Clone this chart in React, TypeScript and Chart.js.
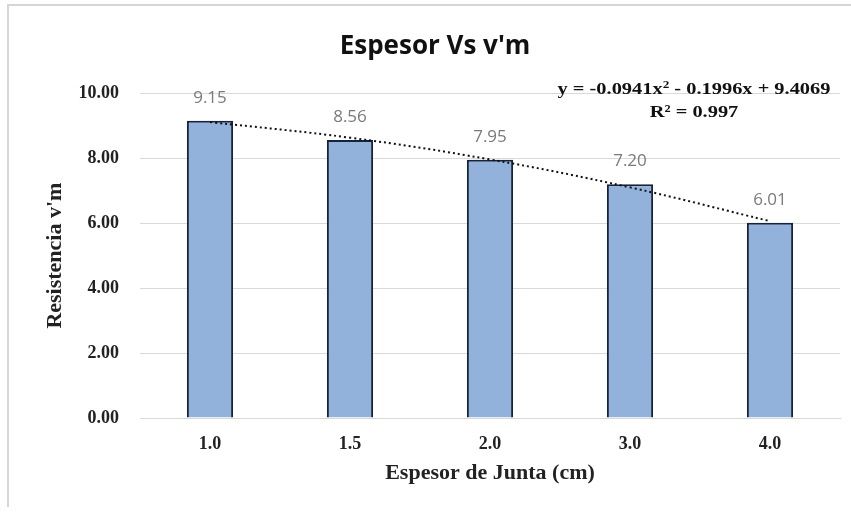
import React, { useEffect, useRef } from "react";
import { Chart, registerables } from "chart.js";

Chart.register(...registerables);

const categories = ["1.0", "1.5", "2.0", "3.0", "4.0"];
const resistencia = [9.15, 8.56, 7.95, 7.2, 6.01];
const trendValues = [9.11, 8.63, 7.96, 7.1, 6.06];
const yTicks = [0, 2, 4, 6, 8, 10];
const chartTitle = "Espesor Vs v'm";
const xTitle = "Espesor de Junta (cm)";
const yTitle = "Resistencia v'm";
const eqPart1 = "y = -0.0941x";
const eqSup = "2";
const eqPart2 = " - 0.1996x + 9.4069";
const r2Text = "R² = 0.997";

const serif = "'Liberation Serif', 'Times New Roman', serif";
const sans = "'Open Sans', 'Noto Sans', sans-serif";

const labelPlugin = {
  id: "valueLabels",
  afterDatasetsDraw(chart: any) {
    const ctx = chart.ctx;
    const meta = chart.getDatasetMeta(0);
    ctx.save();
    ctx.font = `17px ${sans}`;
    ctx.fillStyle = "#7a7a7a";
    ctx.textAlign = "center";
    ctx.textBaseline = "middle";
    meta.data.forEach((el: any, i: number) => {
      ctx.fillText(resistencia[i].toFixed(2), el.x, el.y - 23);
    });
    ctx.restore();
  },
  afterDraw(chart: any) {
    const ctx = chart.ctx;
    const ca = chart.chartArea;
    ctx.save();
    ctx.fillStyle = "#111";
    ctx.textBaseline = "middle";
    const big = `bold 17px ${serif}`;
    const small = `bold 11px ${serif}`;
    const sx = 1.2;
    ctx.font = big;
    const w1 = ctx.measureText(eqPart1).width;
    const w3 = ctx.measureText(eqPart2).width;
    ctx.font = small;
    const w2 = ctx.measureText(eqSup).width;
    const total = (w1 + w2 + w3) * sx;
    const cx = ca.right - 146;
    ctx.translate(cx - total / 2, 0);
    ctx.scale(sx, 1);
    let x = 0;
    const y1 = 90;
    ctx.textAlign = "left";
    ctx.font = big;
    ctx.fillText(eqPart1, x, y1);
    x += w1;
    ctx.font = small;
    ctx.fillText(eqSup, x, y1 - 5);
    x += w2;
    ctx.font = big;
    ctx.fillText(eqPart2, x, y1);
    ctx.textAlign = "center";
    ctx.fillText(r2Text, total / 2 / sx, 113);
    ctx.restore();
  },
};

export default function App() {
  const ref = useRef<HTMLCanvasElement>(null);
  useEffect(() => {
    if (!ref.current) return;
    const chart = new Chart(ref.current, {
      type: "bar",
      data: {
        labels: categories,
        datasets: [
          {
            type: "bar",
            data: resistencia,
            backgroundColor: "#92b2dc",
            borderColor: "#15233d",
            borderWidth: 2,
            barPercentage: 0.33,
            categoryPercentage: 1,
            order: 2,
          },
          {
            type: "line",
            data: trendValues,
            borderColor: "#111",
            borderWidth: 2,
            borderDash: [2, 3],
            pointRadius: 0,
            tension: 0.4,
            fill: false,
            order: 1,
          } as any,
        ],
      },
      options: {
        responsive: false,
        animation: false,
        layout: { padding: { left: 30, right: 11, top: 0, bottom: 10 } },
        plugins: {
          legend: { display: false },
          tooltip: { enabled: false },
          title: {
            display: true,
            text: chartTitle,
            color: "#111",
            font: { family: sans, size: 26, weight: "bold" },
            padding: { top: 31, bottom: 31 },
          },
        },
        scales: {
          x: {
            grid: { display: false, drawTicks: false },
            border: { display: true, color: "#d9d9d9" },
            ticks: {
              padding: 16,
              color: "#222",
              font: { family: serif, size: 18, weight: "bold" },
            },
            title: {
              display: true,
              text: xTitle,
              color: "#222",
              font: { family: serif, size: 22, weight: "bold" },
              padding: { top: 0, bottom: 18 },
            },
            afterFit: (s: any) => {
              s.height = 87;
            },
          },
          y: {
            min: 0,
            max: 10,
            afterBuildTicks: (s: any) => {
              s.ticks = yTicks.map((v) => ({ value: v }));
            },
            grid: { color: "#d9d9d9", drawTicks: false },
            border: { display: false },
            ticks: {
              padding: 21,
              color: "#222",
              font: { family: serif, size: 18, weight: "bold" },
              callback: (v: any) => Number(v).toFixed(2),
            },
            title: {
              display: true,
              text: yTitle,
              color: "#222",
              font: { family: serif, size: 22, weight: "bold" },
              padding: { top: 12, bottom: 12 },
            },
            afterFit: (s: any) => {
              s.width = 110;
            },
          },
        },
      },
      plugins: [labelPlugin],
    });
    return () => chart.destroy();
  }, []);
  return (
    <div
      style={{
        position: "fixed",
        left: 0,
        top: 0,
        width: 851,
        height: 515,
        background: "#fff",
      }}
    >
      <div
        style={{
          position: "absolute",
          left: 7,
          top: 4,
          right: 0,
          bottom: 8,
          borderTop: "2px solid #d6d6d6",
          borderLeft: "2px solid #d6d6d6",
        }}
      />
      <canvas
        ref={ref}
        width={851}
        height={515}
        style={{ position: "absolute", left: 0, top: 0 }}
      />
    </div>
  );
}
